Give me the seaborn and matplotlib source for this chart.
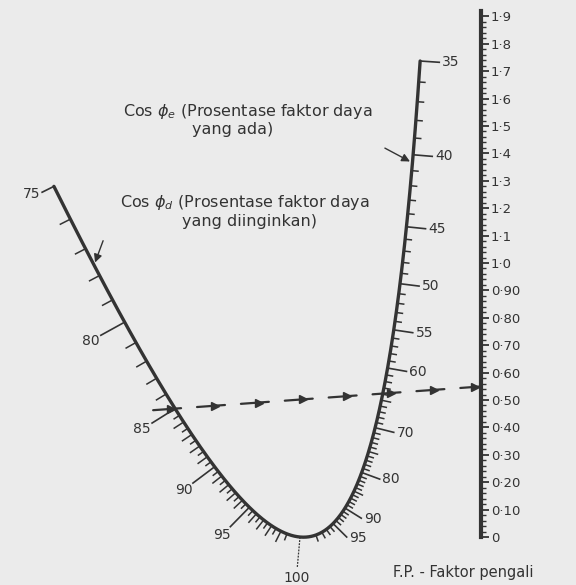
import numpy as np
import matplotlib
matplotlib.use("Agg")
import matplotlib.pyplot as plt
import seaborn as sns

# Nomogram faktor daya : F.P. = tan(phi_e) - tan(phi_d)

# Skala F.P. (faktor pengali)
fp_nilai = [0.0, 0.1, 0.2, 0.3, 0.4, 0.5, 0.6, 0.7, 0.8, 0.9,
            1.0, 1.1, 1.2, 1.3, 1.4, 1.5, 1.6, 1.7, 1.8, 1.9]
fp_label = ["0", "0·10", "0·20", "0·30", "0·40", "0·50", "0·60", "0·70", "0·80", "0·90",
            "1·0", "1·1", "1·2", "1·3", "1·4", "1·5", "1·6", "1·7", "1·8", "1·9"]

# Skala Cos phi_e (faktor daya yang ada), cabang kanan
pf_ada_min, pf_ada_max = 35, 100
pf_ada_label = [35, 40, 45, 50, 55, 60, 70, 80, 90, 95]

# Skala Cos phi_d (faktor daya yang diinginkan), cabang kiri
pf_ingin_min, pf_ingin_max = 75, 100
pf_ingin_label = [75, 80, 85, 90, 95, 100]

# Contoh pembacaan (garis putus-putus)
contoh_ingin = 85
contoh_ada = 65

# Bentuk kurva (hiperbola, parameter u = +/- tan phi), dalam piksel
U0, A, C = -1.5640, 490.34, -297.68
P, Q, R = 1004.78, -288.16, -731.57

# Tata letak (piksel)
W, H = 576, 585
FP_X, FP_Y0, FP_PX = 481, 537, 274
TINTA = "#333333"
LATAR = "#ebebeb"

sns.set_theme(style="white")
plt.rcParams['font.family'] = ['DejaVu Sans']

fig = plt.figure(figsize=(W / 100, H / 100), dpi=100, facecolor=LATAR)
ax = fig.add_axes([0, 0, 1, 1])
ax.set_facecolor(LATAR)
ax.set_xlim(0, W)
ax.set_ylim((FP_Y0 - H) / FP_PX, FP_Y0 / FP_PX)


def ke_data(xp, yp):
    return xp, (FP_Y0 - np.asarray(yp)) / FP_PX


def u_dari_pf(pf, cabang):
    t = np.tan(np.arccos(np.asarray(pf, dtype=float) / 100.0))
    return t if cabang == "ada" else -t


def kurva_px(u):
    u = np.asarray(u, dtype=float)
    return A + C / (u - U0), P + Q * u + R / (u - U0)


def normal_px(u):
    x1, y1 = kurva_px(u - 1e-4)
    x2, y2 = kurva_px(u + 1e-4)
    tx, ty = x2 - x1, y2 - y1
    n = np.hypot(tx, ty)
    return -ty / n, tx / n


# kurva U
u_kurva = np.linspace(u_dari_pf(pf_ingin_min, "ingin"), u_dari_pf(pf_ada_min, "ada"), 600)
xk, yk = ke_data(*kurva_px(u_kurva))
sns.lineplot(x=xk, y=yk, sort=False, estimator=None, color=TINTA, lw=2.4, ax=ax)


def gambar_tick(pf, cabang, panjang, lw=1.1, ls="-"):
    u = u_dari_pf(pf, cabang)
    x0, y0 = kurva_px(u)
    nx, ny = normal_px(u)
    x1, y1 = x0 + nx * panjang, y0 + ny * panjang
    ax.plot(*ke_data(np.array([x0, x1]), np.array([y0, y1])), color=TINTA, lw=lw, ls=ls,
            solid_capstyle="butt")
    return x1, y1, nx, ny


# ticks cabang kiri (diinginkan)
for v in np.arange(pf_ingin_min, pf_ingin_max + 0.01, 0.5):
    if v in pf_ingin_label:
        continue
    if v < 85 and v != int(v):
        continue
    gambar_tick(v, "ingin", 12 if v == int(v) else 7)
for v in pf_ingin_label:
    panjang = {75: 14, 100: 30}.get(v, 28)
    x1, y1, nx, ny = gambar_tick(v, "ingin", panjang, lw=1.2 if v != 100 else 0.9,
                                 ls="-" if v != 100 else (0, (1.5, 1)))
    ax.text(*ke_data(x1 + nx * 11, y1 + ny * 11 - (4 if v == 75 else 0)), str(v),
            ha="center", va="center", fontsize=10, color=TINTA)

# ticks cabang kanan (yang ada)
for v in range(pf_ada_min, pf_ada_max):
    if v in pf_ada_label:
        continue
    gambar_tick(v, "ada", 10 if v % 5 == 0 else 7)
for v in pf_ada_label:
    x1, y1, nx, ny = gambar_tick(v, "ada", 20, lw=1.2)
    ax.text(*ke_data(x1 + 2, y1), str(v), ha="left", va="center", fontsize=10, color=TINTA)

# skala F.P. sebagai spine kanan
for s in ["left", "top", "bottom"]:
    ax.spines[s].set_visible(False)
ax.spines["right"].set_position(("data", FP_X))
ax.spines["right"].set_bounds(0, 1.92)
ax.spines["right"].set_linewidth(3.0)
ax.spines["right"].set_color(TINTA)
ax.set_xticks([])
ax.yaxis.set_ticks_position("right")
ax.set_yticks(fp_nilai, fp_label)
ax.set_yticks(np.arange(0, 1.92, 0.02), minor=True)
ax.tick_params(axis="y", which="major", direction="out", length=6, width=1.3, color=TINTA,
               labelsize=9.5, labelcolor=TINTA, pad=1)
ax.tick_params(axis="y", which="minor", direction="out", length=3.5, width=1.0, color=TINTA)

# garis contoh putus-putus dengan panah
u_d = u_dari_pf(contoh_ingin, "ingin")
fp_contoh = u_dari_pf(contoh_ada, "ada") + u_d
xs, ys = kurva_px(u_d)
xe, ye = FP_X, FP_Y0 - fp_contoh * FP_PX
arah = np.array([xe - xs, ye - ys]) / np.hypot(xe - xs, ye - ys)
x_mulai, y_mulai = xs - arah[0] * 22, ys - arah[1] * 22
total = np.hypot(xe - x_mulai, ye - y_mulai)
for s0 in np.arange(0, total - 10, 44):
    s1 = min(s0 + 28, total)
    seg_x = x_mulai + arah[0] * np.array([s0, s1])
    seg_y = y_mulai + arah[1] * np.array([s0, s1])
    ax.plot(*ke_data(seg_x, seg_y), color=TINTA, lw=1.6)
    mid = (s0 + s1) / 2 + 4
    ax.plot(*ke_data(x_mulai + arah[0] * mid, y_mulai + arah[1] * mid), marker=">", ms=6,
            color=TINTA, mec=TINTA)

# panah penunjuk skala
for pf, cabang, dx, dy in [(40.5, "ada", -30, -16), (77.6, "ingin", 10, -27)]:
    xt, yt = kurva_px(u_dari_pf(pf, cabang))
    ax.annotate("", xy=ke_data(xt, yt), xytext=ke_data(xt + dx, yt + dy),
                arrowprops=dict(arrowstyle="-|>", color=TINTA, lw=1.0, mutation_scale=12))

# keterangan
teks = dict(color=TINTA, fontsize=11.5, ha="left", va="center")
ax.text(*ke_data(123, 112), r"Cos $\phi_e$ (Prosentase faktor daya", **teks)
ax.text(*ke_data(192, 130), "yang ada)", **teks)
ax.text(*ke_data(120, 203), r"Cos $\phi_d$ (Prosentase faktor daya", **teks)
ax.text(*ke_data(182, 222), "yang diinginkan)", **teks)
ax.text(*ke_data(393, 573), "F.P. - Faktor pengali", color=TINTA, fontsize=10.5, ha="left", va="center")

fig.savefig("out.png", dpi=100, facecolor=LATAR)
